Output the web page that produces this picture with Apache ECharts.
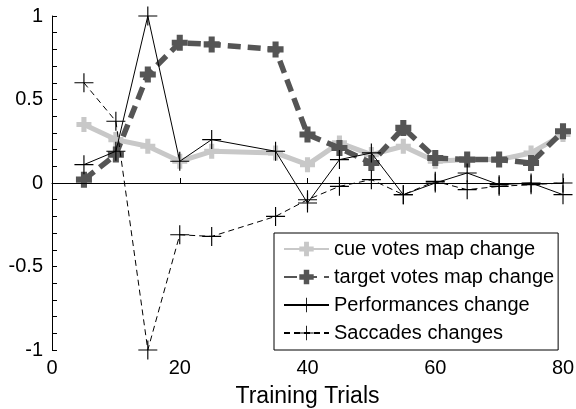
<!DOCTYPE html>
<html>
<head>
<meta charset="utf-8">
<script src="https://cdn.jsdelivr.net/npm/echarts@6/dist/echarts.min.js"></script>
<style>
  html, body { margin: 0; padding: 0; background: #fff; }
  #chart { width: 576px; height: 409px; }
</style>
</head>
<body>
<div id="chart"></div>
<script>
// Training trial at which each change was measured
const trials = [5, 10, 15, 20, 25, 35, 40, 45, 50, 55, 60, 65, 70, 75, 80];

// Change values per series
const cueVotes    = [0.35, 0.26, 0.22, 0.13, 0.19, 0.18, 0.11, 0.24, 0.17, 0.22, 0.13, 0.14, 0.14, 0.18, 0.29];
const targetVotes = [0.02, 0.17, 0.65, 0.84, 0.83, 0.80, 0.29, 0.21, 0.12, 0.33, 0.15, 0.14, 0.14, 0.12, 0.31];
const performance = [0.11, 0.19, 1.00, 0.13, 0.26, 0.19, -0.12, 0.14, 0.18, -0.07, 0.00, 0.06, -0.01, 0.00, -0.07];
const saccades    = [0.60, 0.37, -1.00, -0.31, -0.32, -0.20, -0.10, -0.02, 0.02, -0.07, 0.01, -0.04, -0.02, -0.01, 0.00];

const seriesNames = [
  'cue votes map change',
  'target votes map change',
  'Performances change',
  'Saccades changes'
];

const xTicks = { min: 0, max: 80, step: 20 };
const yTicks = { min: -1, max: 1, minorStep: 0.1, labelStep: 0.5 };

// "+" marker as a filled outline; t is the arm thickness on a 100-unit box
function plus(t) {
  const a = 50 - t / 2, b = 50 + t / 2;
  return 'path://M' + a + ',0 H' + b + ' V' + a + ' H100 V' + b + ' H' + b +
         ' V100 H' + a + ' V' + b + ' H0 V' + a + ' H' + a + ' Z';
}

function pairs(values) {
  return trials.map((t, i) => [t, values[i]]);
}

const FONT = '"Liberation Sans", Arial, Helvetica, sans-serif';

const chart = echarts.init(document.getElementById('chart'), null, { renderer: 'canvas' });

chart.setOption({
  animation: false,
  backgroundColor: '#fff',
  grid: { left: 52, right: 13, top: 16, bottom: 59, containLabel: false, outerBoundsMode: 'none' },
  xAxis: {
    type: 'value',
    min: xTicks.min,
    max: xTicks.max,
    interval: xTicks.step,
    name: 'Training Trials',
    nameLocation: 'middle',
    nameGap: 35,
    nameTextStyle: { fontFamily: FONT, fontSize: 23, color: '#000' },
    axisLine: { show: true, lineStyle: { color: '#000', width: 1 } },
    axisTick: { show: true, inside: true, length: 5, lineStyle: { color: '#000' } },
    axisLabel: { fontFamily: FONT, fontSize: 20, color: '#000', margin: 8 },
    splitLine: { show: false }
  },
  yAxis: {
    type: 'value',
    min: yTicks.min,
    max: yTicks.max,
    interval: yTicks.minorStep,
    axisLine: { show: true, lineStyle: { color: '#000', width: 1 } },
    axisTick: { show: true, inside: true, length: 5, lineStyle: { color: '#000' } },
    axisLabel: {
      fontFamily: FONT, fontSize: 20, color: '#000', margin: 9,
      formatter: function (v) {
        const k = v / yTicks.labelStep;
        if (Math.abs(k - Math.round(k)) > 1e-6) return '';
        const r = Math.round(k) * yTicks.labelStep;
        return String(r === 0 ? 0 : r);
      }
    },
    splitLine: { show: false }
  },
  legend: {
    orient: 'vertical',
    left: 274,
    top: 233,
    data: seriesNames,
    backgroundColor: '#fff',
    borderColor: '#000',
    borderWidth: 1,
    borderRadius: 0,
    padding: [6, 4, 7, 9],
    itemWidth: 45,
    itemHeight: 18,
    itemGap: 8,
    selectedMode: false,
    textStyle: { fontFamily: FONT, fontSize: 20, color: '#000', padding: [0, 0, 0, 0] }
  },
  series: [
    {
      name: seriesNames[0],
      type: 'line',
      data: pairs(cueVotes),
      symbol: plus(34),
      symbolSize: 15,
      showAllSymbol: true,
      itemStyle: { color: '#c8c8c8' },
      lineStyle: { color: '#c8c8c8', width: 5, type: 'solid' },
      z: 2,
      markLine: {
        silent: true,
        symbol: ['none', 'none'],
        label: { show: false },
        lineStyle: { color: '#000', width: 1, type: 'solid' },
        data: [{ yAxis: 0 }]
      }
    },
    {
      name: seriesNames[1],
      type: 'line',
      data: pairs(targetVotes),
      symbol: plus(38),
      symbolSize: 16,
      showAllSymbol: true,
      itemStyle: { color: '#555555' },
      lineStyle: { color: '#555555', width: 5.5, type: [13, 7] },
      z: 3
    },
    {
      name: seriesNames[2],
      type: 'line',
      data: pairs(performance),
      symbol: plus(6),
      symbolSize: 19,
      showAllSymbol: true,
      itemStyle: { color: '#000' },
      lineStyle: { color: '#000', width: 1, type: 'solid' },
      z: 4
    },
    {
      name: seriesNames[3],
      type: 'line',
      data: pairs(saccades),
      symbol: plus(6),
      symbolSize: 19,
      showAllSymbol: true,
      itemStyle: { color: '#000' },
      lineStyle: { color: '#000', width: 1, type: [6, 4] },
      z: 5
    }
  ]
});
</script>
</body>
</html>
